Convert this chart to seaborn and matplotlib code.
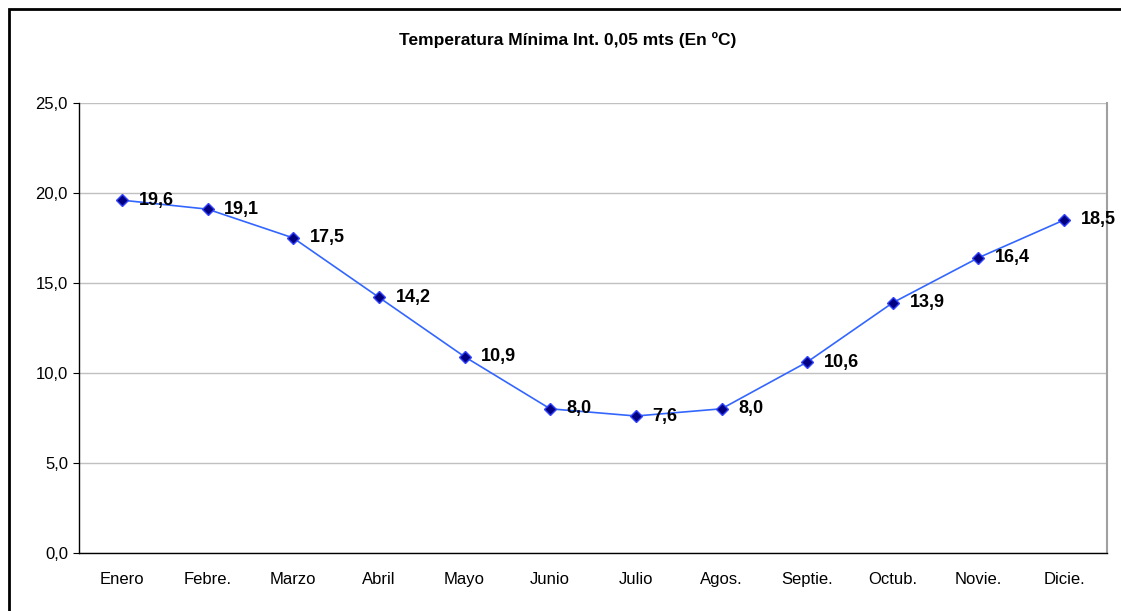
import seaborn as sns
import matplotlib.pyplot as plt
import matplotlib.patches as mpatches
from matplotlib.ticker import FixedLocator, FuncFormatter
import pandas as pd

months = ["Enero", "Febre.", "Marzo", "Abril", "Mayo", "Junio",
          "Julio", "Agos.", "Septie.", "Octub.", "Novie.", "Dicie."]
temps = [19.6, 19.1, 17.5, 14.2, 10.9, 8.0, 7.6, 8.0, 10.6, 13.9, 16.4, 18.5]
title = "Temperatura Mínima Int. 0,05 mts (En ºC)"

df = pd.DataFrame({"mes": months, "temp": temps})

sns.set_style("white")
plt.rcParams["font.family"] = ["Liberation Sans", "DejaVu Sans"]
plt.rcParams["text.color"] = "black"
plt.rcParams["xtick.color"] = "black"
plt.rcParams["ytick.color"] = "black"

fig = plt.figure(figsize=(11.21, 6.11), dpi=100)
ax = fig.add_axes([0.0705, 0.0954, 0.917, 0.736])

sns.lineplot(data=df, x="mes", y="temp", sort=False, ax=ax,
             color="#3366FF", linewidth=1.2, marker="D", markersize=6.5,
             markerfacecolor="#000080", markeredgecolor="#3344FF",
             markeredgewidth=1.0)

for i, v in enumerate(temps):
    ax.annotate(f"{v:.1f}".replace(".", ","), (i, v), xytext=(12, 0),
                textcoords="offset points", ha="left", va="center",
                fontsize=13, fontweight="bold", color="black")

ax.set_xlim(-0.5, len(months) - 0.5)
ax.set_ylim(0, 25)
ax.set_yticks([0, 5, 10, 15, 20, 25])
ax.yaxis.set_major_formatter(FuncFormatter(lambda v, p: f"{v:.1f}".replace(".", ",")))
ax.set_xticks(range(len(months)))
ax.set_xticklabels(months)
ax.xaxis.set_minor_locator(FixedLocator([i - 0.5 for i in range(len(months) + 1)]))
ax.tick_params(axis="x", which="major", length=0, pad=14, labelsize=12, labelcolor="black")
ax.tick_params(axis="x", which="minor", length=4, width=0.8, color="black", direction="out")
ax.tick_params(axis="y", length=4, width=0.8, color="black", direction="out",
               labelsize=12, pad=4, left=True, labelcolor="black")
ax.grid(axis="y", color="#c0c0c0", linewidth=1.0)
ax.set_axisbelow(True)
ax.set_xlabel("")
ax.set_ylabel("")

for side in ["left", "bottom"]:
    ax.spines[side].set_color("black")
    ax.spines[side].set_linewidth(1.0)
for side in ["top", "right"]:
    ax.spines[side].set_color("#a0a0a0")
    ax.spines[side].set_linewidth(1.5)
ax.spines["top"].set_visible(False)

fig.text(568 / 1121, 1 - 40 / 611, title, ha="center", va="center",
         fontsize=12.5, fontweight="bold", color="black")

fig.patches.append(mpatches.Rectangle((9 / 1121, -0.1), 1.2, 1 - 9 / 611 + 0.1,
                                      transform=fig.transFigure, fill=False,
                                      edgecolor="black", linewidth=2.0))

fig.savefig("out.png", dpi=100)
